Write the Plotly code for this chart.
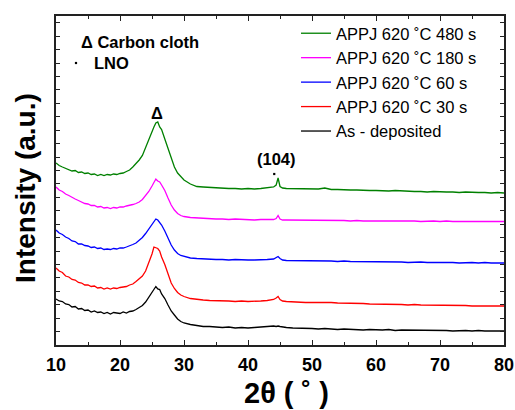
import plotly.graph_objects as go

# 2-theta positions (degrees), shared by every pattern
two_theta = [
    10, 10.5, 11, 11.5, 12, 12.5, 13, 13.5, 14, 14.5, 15, 15.5, 16, 16.5, 17, 17.5,
    18, 18.5, 19, 19.5, 20, 20.5, 21, 21.5, 22, 22.5, 23, 23.5, 24, 24.5, 25,
    25.3, 25.6, 25.9, 26.2, 26.5, 27, 27.5, 28, 28.5, 29, 29.5, 30,
    31, 32, 33, 34, 35, 36, 37, 38, 39, 40, 41, 42, 43, 44,
    44.4, 44.7, 45.0, 45.4,
    46, 47, 48, 49, 50, 51, 52, 53, 54, 55, 56, 57, 58, 59, 60,
    61, 62, 63, 64, 65, 66, 67, 68, 69, 70, 71, 72, 73, 74, 75, 76, 77, 78, 79, 80,
]

# Offset intensities (a.u.) for each sample
as_deposited = [
    46, 44, 43.5, 41, 40.5, 38, 38.5, 36, 36.5, 34.5, 35, 33, 34, 32.5, 33, 31.5,
    32.5, 31, 32.5, 32, 31.5, 33, 32, 33.5, 34, 35.5, 37.5, 39.5, 43, 47.5, 52,
    55, 58.5, 56, 55.5, 51, 46.5, 40, 34, 30, 26, 23.5, 22,
    20.5, 19.5, 18.5, 18.5, 18, 17.5, 18, 17, 17.5, 17, 17.5, 18, 19, 19,
    18.5, 19, 18.5, 18,
    17.5, 17, 17, 16.5, 16.5, 16, 16.5, 16, 15.5, 16, 15.5, 15.5, 15, 15.5, 15,
    15, 15.5, 14.5, 15, 15, 14.5, 15, 14.5, 14.5, 15, 14.5, 14, 14.5, 14.5, 14, 14.5, 14, 14, 14.5, 14,
]

appj_30s = [
    77, 74, 72.5, 69, 68, 65.5, 65, 62.5, 62, 60, 60, 58.5, 59, 57, 57.5, 56,
    57, 56, 57, 56.5, 57.5, 58, 58.5, 60, 61, 63.5, 66, 69, 74, 82, 91,
    98, 97, 96.5, 94, 88, 80.5, 71, 62, 56.5, 52.5, 50, 48.5,
    46.5, 45.5, 45, 44.5, 44.5, 44, 44, 43.5, 44, 43.5, 43.5, 44, 44.5, 45.5,
    47, 48.5, 45.5, 44,
    43.5, 43, 43, 42.5, 42.5, 42.5, 43, 42.5, 42, 42, 41.5, 41.5, 41.5, 41, 41,
    41, 40.5, 40.5, 40.5, 40, 40.5, 40, 40, 40, 40, 39.5, 39.5, 39.5, 39.5, 39, 39, 39, 39, 39, 39,
]

appj_60s = [
    115, 112, 110.5, 108, 106.5, 104, 103.5, 101, 101, 99.5, 99, 97.5, 98, 96.5, 97, 95.5,
    96, 95.5, 96.5, 96, 97, 97, 98, 99, 100.5, 102, 104.5, 107.5, 111.5, 116, 120.5,
    123.5, 126, 125, 123, 120, 114, 107, 100, 95, 91.5, 89.5, 88.5,
    87, 86.5, 86, 86, 85.5, 85.5, 85, 85.5, 85, 85, 85, 85, 85.5, 86,
    87, 88.5, 86.5, 85,
    84.5, 84.5, 84.5, 84, 84.5, 84, 84.5, 84, 83.5, 84, 83.5, 83.5, 83.5, 83, 83.5,
    83, 83, 83.5, 83, 82.5, 83, 83, 82.5, 82.5, 83, 82.5, 82.5, 82, 82.5, 82.5, 82, 82.5, 82, 82, 82,
]

appj_180s = [
    158, 155, 153.5, 151, 149.5, 147.5, 146, 144.5, 143, 141.5, 141, 139.5, 139.5, 138, 138.5, 137,
    137.5, 136.5, 137.5, 137, 138, 138, 139, 139.5, 140.5, 141.5, 143, 145.5, 149, 153.5, 159,
    163, 166, 164, 163, 160, 154.5, 147, 140, 135, 131.5, 129.5, 128.5,
    127.5, 127, 126.5, 126.5, 126, 126, 125.5, 126, 125.5, 125.5, 125, 125.5, 125.5, 125.5,
    126.5, 129.5, 126, 125,
    125, 125, 124.5, 125, 124.5, 124.5, 125, 124.5, 124.5, 124.5, 124, 124.5, 124, 124, 124.5,
    124, 124, 124.5, 124, 124, 124, 123.5, 124, 124, 123.5, 124, 123.5, 123.5, 124, 123.5, 123.5, 123.5, 123.5, 123.5, 123.5,
]

appj_480s = [
    182, 179.5, 178, 176.5, 175.5, 174, 174.5, 172.5, 173, 171.5, 172, 170.5, 171, 169.5, 170.5, 169.5,
    170.5, 170, 171, 170.5, 171.5, 172, 173.5, 175, 178, 181, 185, 189.5, 198, 206, 214,
    218, 222, 223, 218, 215.5, 206, 196, 186, 178, 172, 168, 165,
    161, 158.5, 158, 157.5, 157, 157, 156.5, 156.5, 156, 156.5, 156, 156.5, 157, 158,
    160, 167, 158.5, 157,
    156.5, 156.5, 156, 156, 156, 156, 157, 155.5, 155.5, 155, 155, 155, 154.5, 154.5, 154.5,
    154, 154, 154.5, 154, 153.5, 153.5, 153.5, 153, 153.5, 153, 153, 153, 152.5, 153, 152.5, 152.5, 152.5, 152, 152.5, 152,
]

series_names = [
    "APPJ 620 ˚C 480 s",
    "APPJ 620 ˚C 180 s",
    "APPJ 620 ˚C 60 s",
    "APPJ 620 ˚C 30 s",
    "As - deposited",
]
series_values = [appj_480s, appj_180s, appj_60s, appj_30s, as_deposited]
series_colors = ["#008000", "#FF00FF", "#0000FF", "#FF0000", "#000000"]

x_ticks = [10, 20, 30, 40, 50, 60, 70, 80]

FONT = "Liberation Sans, Arial, sans-serif"
Y_MAX = 329
PLOT_L, PLOT_T, PLOT_W, PLOT_H = 56, 16, 448, 329
PX_PER_DEG = PLOT_W / 70  # horizontal scale of the plot area


def px_to_paper(px, py):
    """Convert a canvas pixel position into paper coordinates of the plot area."""
    return (px - PLOT_L) / PLOT_W, (PLOT_T + PLOT_H - py) / PLOT_H


fig = go.Figure()
for name, vals, col in zip(series_names, series_values, series_colors):
    fig.add_trace(go.Scatter(
        x=two_theta, y=vals, mode="lines", name=name,
        line=dict(color=col, width=1.3),
    ))

axis_common = dict(
    showline=True, linecolor="#222222", linewidth=1.6, mirror="allticks",
    ticks="inside", tickcolor="#222222", tickwidth=1.2,
    showgrid=False, zeroline=False, automargin=False,
)

fig.update_xaxes(
    range=[10, 80], tickvals=x_ticks, ticklen=5, ticklabelstandoff=3,
    tickfont=dict(family=FONT, size=18, color="#000000", weight="bold"),
    minor=dict(ticks="inside", dtick=5, tick0=10, ticklen=3, tickcolor="#222222"),
    **axis_common,
)
fig.update_yaxes(
    range=[0, Y_MAX], tick0=0, dtick=Y_MAX / 24.5, ticklen=4, showticklabels=False,
    **axis_common,
)

bold_label = dict(family=FONT, size=16.5, color="#000000", weight="bold")
notes = [
    # peak labels
    dict(x=25.8, y=232, xref="x", yref="y", text="Δ", showarrow=False, font=bold_label),
    dict(x=44.5, y=186, xref="x", yref="y", text="(104)", showarrow=False, font=bold_label),
]
# key of symbols
for txt, px, py in [("Δ Carbon cloth", 79, 42), ("LNO", 92, 63)]:
    ax, ay = px_to_paper(px, py)
    notes.append(dict(x=ax, y=ay, xref="paper", yref="paper", text=txt, showarrow=False,
                      xanchor="left", yanchor="middle", font=bold_label))
# axis titles
tx, ty = px_to_paper(286, 393)
notes.append(dict(x=tx, y=ty, xref="paper", yref="paper", text="2θ ( ˚ )", showarrow=False,
                  xanchor="center", yanchor="middle",
                  font=dict(family=FONT, size=29, color="#000000", weight="bold")))
tx, ty = px_to_paper(25, 188)
notes.append(dict(x=tx, y=ty, xref="paper", yref="paper", text="Intensity (a.u.)", showarrow=False,
                  textangle=-90, xanchor="center", yanchor="middle",
                  font=dict(family=FONT, size=28, color="#000000", weight="bold")))
fig.update_layout(annotations=notes)

# Small square dots marking the LNO reflection and its key entry
dot_half_deg = 1.1 / PX_PER_DEG
dots = [(44.1, 171), (10 + (76 - 56) / PX_PER_DEG, 345 - 63)]
for dx, dy in dots:
    fig.add_shape(type="rect", xref="x", yref="y",
                  x0=dx - dot_half_deg, x1=dx + dot_half_deg, y0=dy - 1.1, y1=dy + 1.1,
                  fillcolor="#000000", line=dict(width=0))

fig.update_layout(
    width=515, height=410,
    margin=dict(l=PLOT_L, r=515 - PLOT_L - PLOT_W, t=PLOT_T, b=410 - PLOT_T - PLOT_H),
    paper_bgcolor="#FFFFFF", plot_bgcolor="#FFFFFF",
    font=dict(family=FONT, color="#000000"),
    showlegend=True,
    legend=dict(
        x=(296 - 56) / 448, y=1, xanchor="left", yanchor="top",
        bgcolor="rgba(0,0,0,0)", borderwidth=0,
        font=dict(family=FONT, size=16.5, color="#000000"),
        traceorder="normal",
    ),
)

fig.write_html("out.html")
